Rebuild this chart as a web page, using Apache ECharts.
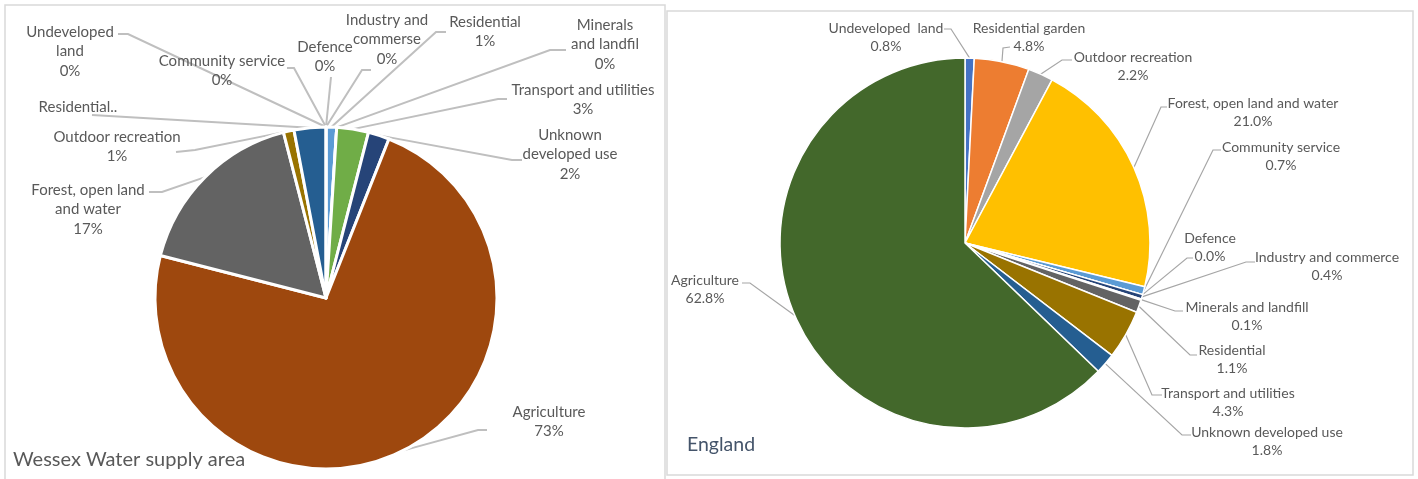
<!DOCTYPE html>
<html>
<head>
<meta charset="utf-8">
<script src="https://cdn.jsdelivr.net/npm/echarts@6/dist/echarts.min.js"></script>
<style>
  html, body { margin: 0; padding: 0; background: #ffffff; }
  #chart { width: 1418px; height: 479px; }
</style>
</head>
<body>
<div id="chart"></div>
<script>
// ---- Land use, Wessex Water supply area (% of area), clockwise from 12 o'clock ----
const wessexCategories = [
  'Community service', 'Defence', 'Industry and commerse', 'Residential',
  'Minerals and landfil', 'Transport and utilities', 'Unknown developed use',
  'Agriculture', 'Forest, open land and water', 'Outdoor recreation',
  'Residential garden', 'Undeveloped land'
];
const wessexValues = [0, 0, 0, 1, 0, 3, 2, 73, 17, 1, 3, 0];
const wessexLabelText = [
  'Community service', 'Defence', 'Industry and\ncommerse', 'Residential',
  'Minerals\nand landfil', 'Transport and utilities', 'Unknown\ndeveloped use',
  'Agriculture', 'Forest, open land\nand water', 'Outdoor recreation',
  'Residential..', 'Undeveloped\nland'
];
const wessexShowPercent = [true, true, true, true, true, true, true, true, true, true, false, true];

// ---- Land use, England (% of area), clockwise from 12 o'clock ----
const englandCategories = [
  'Undeveloped land', 'Residential garden', 'Outdoor recreation',
  'Forest, open land and water', 'Community service', 'Defence',
  'Industry and commerce', 'Minerals and landfill', 'Residential',
  'Transport and utilities', 'Unknown developed use', 'Agriculture'
];
const englandValues = [0.8, 4.8, 2.2, 21.0, 0.7, 0.0, 0.4, 0.1, 1.1, 4.3, 1.8, 62.8];
const englandLabelText = [
  'Undeveloped  land', 'Residential garden', 'Outdoor recreation',
  'Forest, open land and water', 'Community service', 'Defence',
  'Industry and commerce', 'Minerals and landfill', 'Residential',
  'Transport and utilities', 'Unknown developed use', 'Agriculture'
];

// ---- Styling ----
const wessexColors = ['#4472C4', '#ED7D31', '#A5A5A5', '#5B9BD5', '#5B9BD5', '#70AD47',
                      '#264478', '#9E480E', '#636363', '#997300', '#255E91', '#43682B'];
const englandColors = ['#4472C4', '#ED7D31', '#A5A5A5', '#FFC000', '#5B9BD5', '#70AD47',
                       '#264478', '#9E480E', '#636363', '#997300', '#255E91', '#43682B'];

// Label placement: text centre x, first-line centre y, leader bend and end points
const wessexLabelPlacement = [
  { x: 222, y: 61,  bend: [294, 68],  end: [287, 68] },
  { x: 325, y: 47,  bend: [331, 77],  end: [331, 77] },
  { x: 387, y: 20,  bend: [362, 70],  end: [371, 70] },
  { x: 485, y: 22,  bend: [436, 32],  end: [446, 32] },
  { x: 605, y: 25,  bend: [550, 50],  end: [566, 50] },
  { x: 583, y: 90,  bend: [498, 99],  end: [507, 99] },
  { x: 570, y: 135, bend: [512, 160], end: [522, 160] },
  { x: 549, y: 412, bend: [478, 430], end: [487, 430] },
  { x: 88,  y: 190, bend: [162, 192], end: [149, 192] },
  { x: 117, y: 137, bend: [195, 150], end: [176, 152] },
  { x: 78,  y: 107, bend: [92, 115],  end: [92, 115] },
  { x: 70,  y: 32,  bend: [128, 34],  end: [118, 34] }
];
const englandLabelPlacement = [
  { x: 886,  y: 28,  bend: [951, 29],   end: [944, 29] },
  { x: 1029, y: 28,  bend: [1003, 48],  end: [1010, 47] },
  { x: 1133, y: 57,  bend: [1062, 60],  end: [1072, 60] },
  { x: 1253, y: 103, bend: [1161, 107], end: [1167, 107] },
  { x: 1281, y: 147, bend: [1213, 150], end: [1221, 150] },
  { x: 1210, y: 238, bend: [1187, 258], end: [1193, 258] },
  { x: 1327, y: 257, bend: [1246, 262], end: [1255, 262] },
  { x: 1247, y: 307, bend: [1175, 311], end: [1183, 311] },
  { x: 1232, y: 350, bend: [1190, 355], end: [1197, 355] },
  { x: 1228, y: 393, bend: [1152, 395], end: [1162, 395] },
  { x: 1267, y: 432, bend: [1182, 435], end: [1191, 435] },
  { x: 705,  y: 280, bend: [750, 283],  end: [742, 283] }
];

const FONT = 'Lato, "Liberation Sans", sans-serif';
const LEFT_LH = 19.5;
const RIGHT_LH = 18.5;

const chart = echarts.init(document.getElementById('chart'), null, { renderer: 'canvas' });

// Point on a sector's outer edge at its mid angle
function edgePoint(seriesIndex, dataIndex) {
  const data = chart.getModel().getSeriesByIndex(seriesIndex).getData();
  const lay = data.getItemLayout(dataIndex);
  const mid = (lay.startAngle + lay.endAngle) / 2;
  return [lay.cx + lay.r * Math.cos(mid), lay.cy + lay.r * Math.sin(mid)];
}

function makeLayout(placement, lineHeight) {
  return function (params) {
    const p = placement[params.dataIndex];
    const start = edgePoint(params.seriesIndex, params.dataIndex);
    return {
      x: p.x,
      y: p.y - lineHeight / 2,
      align: 'center',
      verticalAlign: 'top',
      labelLinePoints: [start, p.bend.slice(), p.end.slice()]
    };
  };
}

function pieData(names, values, colors) {
  return names.map((n, i) => ({ name: n, value: values[i], itemStyle: { color: colors[i] } }));
}

const option = {
  animation: false,
  backgroundColor: '#ffffff',
  graphic: [
    { type: 'rect', shape: { x: 5, y: 5, width: 660, height: 480 },
      style: { fill: 'none', stroke: '#D9D9D9', lineWidth: 1.5 }, silent: true },
    { type: 'rect', shape: { x: 667, y: 11, width: 746, height: 464 },
      style: { fill: 'none', stroke: '#D9D9D9', lineWidth: 1.5 }, silent: true },
    { type: 'text', left: 13, top: 450,
      style: { text: 'Wessex Water supply area', fill: '#595959', font: '20px ' + FONT } },
    { type: 'text', left: 687, top: 435,
      style: { text: 'England', fill: '#44546A', font: '19.5px ' + FONT } }
  ],
  series: [
    {
      type: 'pie',
      center: [326, 298],
      radius: 171,
      startAngle: 90,
      clockwise: true,
      avoidLabelOverlap: false,
      data: pieData(wessexCategories, wessexValues, wessexColors),
      itemStyle: { borderColor: '#ffffff', borderWidth: 3 },
      emphasis: { disabled: true },
      label: {
        show: true,
        position: 'outside',
        fontFamily: FONT,
        fontSize: 15,
        lineHeight: LEFT_LH,
        color: '#595959',
        formatter: (p) => wessexLabelText[p.dataIndex] +
          (wessexShowPercent[p.dataIndex] ? '\n' + p.value + '%' : '')
      },
      labelLine: { show: true, length: 8, length2: 8, smooth: false,
        lineStyle: { color: '#BFBFBF', width: 2 } },
      labelLayout: makeLayout(wessexLabelPlacement, LEFT_LH)
    },
    {
      type: 'pie',
      center: [965, 243],
      radius: 185,
      startAngle: 90,
      clockwise: true,
      avoidLabelOverlap: false,
      data: pieData(englandCategories, englandValues, englandColors),
      itemStyle: { borderColor: '#ffffff', borderWidth: 1.5 },
      emphasis: { disabled: true },
      label: {
        show: true,
        position: 'outside',
        fontFamily: FONT,
        fontSize: 14,
        lineHeight: RIGHT_LH,
        color: '#595959',
        formatter: (p) => englandLabelText[p.dataIndex] + '\n' + p.value.toFixed(1) + '%'
      },
      labelLine: { show: true, length: 8, length2: 8, smooth: false,
        lineStyle: { color: '#A6A6A6', width: 1.2 } },
      labelLayout: makeLayout(englandLabelPlacement, RIGHT_LH)
    }
  ]
};

chart.setOption(option);
</script>
</body>
</html>
